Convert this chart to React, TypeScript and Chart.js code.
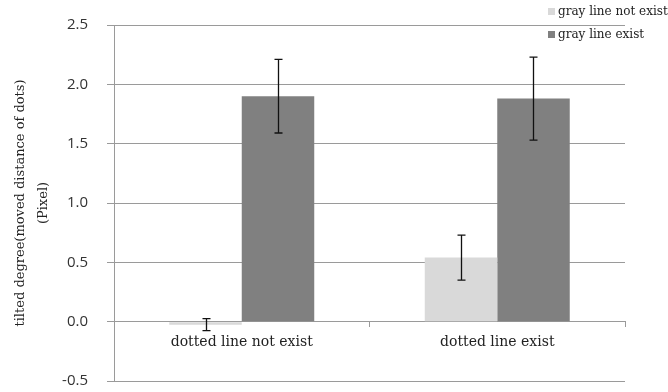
import React, { useEffect, useRef } from 'react';
import { Chart, registerables } from 'chart.js';

Chart.register(...registerables);

const categories = ['dotted line not exist', 'dotted line exist'];
const seriesNames = ['gray line not exist', 'gray line exist'];
const grayLineNotExist = [-0.025, 0.54];
const grayLineExist = [1.9, 1.88];
const errGrayLineNotExist = [0.05, 0.19];
const errGrayLineExist = [0.31, 0.35];
const seriesColors = ['#d9d9d9', '#808080'];
const yTitle = ['tilted degree(moved distance of dots)', '(Pixel)'];
const yMin = -0.5;
const yMax = 2.5;
const yStep = 0.5;

const seriesErrors = [errGrayLineNotExist, errGrayLineExist];

const errorBarPlugin = {
  id: 'errorBars',
  afterDatasetsDraw(chart: any) {
    const { ctx } = chart;
    const y = chart.scales.y;
    ctx.save();
    ctx.strokeStyle = '#111';
    ctx.lineWidth = 1.3;
    chart.data.datasets.forEach((ds: any, i: number) => {
      const meta = chart.getDatasetMeta(i);
      meta.data.forEach((bar: any, j: number) => {
        const v = ds.data[j] as number;
        const e = seriesErrors[i][j];
        const x = Math.round(bar.x) + 0.5;
        const yTop = y.getPixelForValue(v + e);
        const yBot = y.getPixelForValue(v - e);
        ctx.beginPath();
        ctx.moveTo(x, yTop);
        ctx.lineTo(x, yBot);
        ctx.moveTo(x - 4, yTop);
        ctx.lineTo(x + 4, yTop);
        ctx.moveTo(x - 4, yBot);
        ctx.lineTo(x + 4, yBot);
        ctx.stroke();
      });
    });
    ctx.restore();
  },
};

const legendPlugin = {
  id: 'customLegend',
  afterDraw(chart: any) {
    const { ctx } = chart;
    ctx.save();
    ctx.font = '12px "DejaVu Serif"';
    ctx.textBaseline = 'middle';
    ctx.textAlign = 'left';
    chart.data.datasets.forEach((ds: any, i: number) => {
      const cy = 12 + i * 23;
      ctx.fillStyle = ds.backgroundColor;
      ctx.fillRect(548, cy - 4, 7, 7);
      ctx.fillStyle = '#222';
      ctx.fillText(ds.label, 558, cy);
    });
    ctx.restore();
  },
};

export default function App() {
  const canvasRef = useRef<HTMLCanvasElement | null>(null);

  useEffect(() => {
    document.body.style.margin = '0';
    const canvas = canvasRef.current;
    if (!canvas) return;
    const chart = new Chart(canvas, {
      type: 'bar',
      data: {
        labels: categories,
        datasets: [
          {
            label: seriesNames[0],
            data: grayLineNotExist,
            backgroundColor: seriesColors[0],
            categoryPercentage: 0.5675,
            barPercentage: 1,
          },
          {
            label: seriesNames[1],
            data: grayLineExist,
            backgroundColor: seriesColors[1],
            categoryPercentage: 0.5675,
            barPercentage: 1,
          },
        ],
      },
      options: {
        responsive: false,
        animation: false,
        layout: { padding: { top: 25, right: 43, bottom: 11, left: 0 } },
        plugins: {
          legend: { display: false },
          tooltip: { enabled: false },
        },
        scales: {
          x: {
            position: { y: 0 } as any,
            offset: true,
            grid: {
              display: true,
              drawOnChartArea: false,
              drawTicks: true,
              tickLength: 5,
              color: '#9a9a9a',
              offset: true,
            },
            border: { display: true, color: '#9a9a9a', width: 1 },
            ticks: {
              font: { family: 'DejaVu Serif', size: 14 },
              color: '#222',
              padding: 7,
              maxRotation: 0,
              autoSkip: false,
            },
            afterFit: (s: any) => {
              s.height = 0;
            },
          },
          y: {
            min: yMin,
            max: yMax,
            ticks: {
              stepSize: yStep,
              callback: (v: any) => Number(v).toFixed(1),
              font: { family: 'Open Sans', size: 15 },
              color: '#333',
              padding: 19,
            },
            grid: { color: '#9a9a9a', tickLength: 7, lineWidth: 1 },
            border: { display: true, color: '#9a9a9a' },
            title: {
              display: true,
              text: yTitle,
              font: { family: 'DejaVu Serif', size: 13, lineHeight: 1.7 },
              color: '#222',
              padding: { top: 10, bottom: 0 },
            },
            afterFit: (s: any) => {
              s.width = 114;
              s.paddingTop = 10;
              s.paddingBottom = 10;
            },
          },
        },
      },
      plugins: [errorBarPlugin, legendPlugin],
    });
    return () => chart.destroy();
  }, []);

  return (
    <div style={{ width: 668, height: 392 }}>
      <canvas ref={canvasRef} width={668} height={392} />
    </div>
  );
}
